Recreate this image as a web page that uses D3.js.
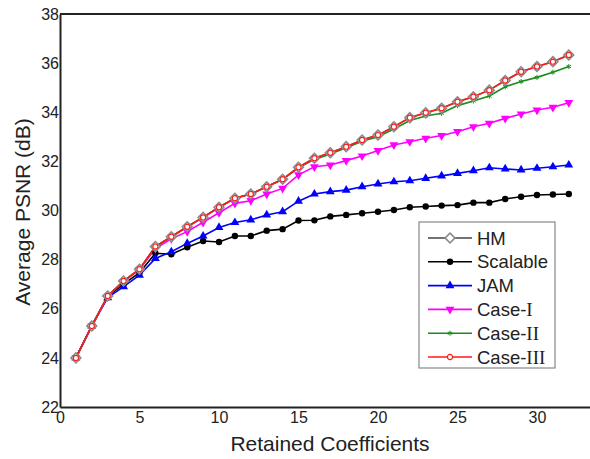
<!DOCTYPE html>
<html>
<head>
<meta charset="utf-8">
<script src="https://cdn.jsdelivr.net/npm/d3@7"></script>
<style>
  body { margin: 0; background: #fff; }
  text { font-family: "Liberation Sans", Arial, sans-serif; fill: #222; }
</style>
</head>
<body>
<svg id="chart" width="590" height="459"></svg>
<script>
// retained coefficients (x values)
var coeffs = [1, 2, 3, 4, 5, 6, 7, 8, 9, 10, 11, 12, 13, 14, 15, 16,
              17, 18, 19, 20, 21, 22, 23, 24, 25, 26, 27, 28, 29, 30, 31, 32];

var hm       = [24.0, 25.3, 26.52, 27.13, 27.61, 28.53, 28.93, 29.34, 29.72, 30.13, 30.5, 30.67, 30.97, 31.27, 31.76, 32.13,
                32.35, 32.6, 32.87, 33.07, 33.41, 33.78, 33.98, 34.16, 34.43, 34.63, 34.9, 35.29, 35.65, 35.86, 36.06, 36.33];
var scalable = [24.0, 25.3, 26.5, 27.0, 27.47, 28.26, 28.22, 28.5, 28.76, 28.72, 28.96, 28.96, 29.18, 29.24, 29.59, 29.6,
                29.76, 29.82, 29.89, 29.95, 30.02, 30.13, 30.16, 30.2, 30.22, 30.32, 30.32, 30.47, 30.56, 30.63, 30.65, 30.67];
var jam      = [24.0, 25.3, 26.45, 26.9, 27.37, 28.05, 28.32, 28.66, 28.96, 29.31, 29.51, 29.62, 29.82, 29.95, 30.38, 30.67,
                30.77, 30.83, 30.97, 31.08, 31.17, 31.21, 31.31, 31.41, 31.51, 31.62, 31.74, 31.69, 31.65, 31.72, 31.78, 31.85];
var caseI    = [24.0, 25.3, 26.5, 27.1, 27.6, 28.45, 28.85, 29.14, 29.52, 29.91, 30.29, 30.4, 30.67, 30.9, 31.45, 31.78,
                31.85, 32.03, 32.22, 32.44, 32.67, 32.8, 32.94, 33.05, 33.21, 33.41, 33.55, 33.75, 33.93, 34.09, 34.2, 34.39];
var caseII   = [24.0, 25.3, 26.52, 27.13, 27.61, 28.53, 28.93, 29.34, 29.72, 30.13, 30.5, 30.67, 30.97, 31.27, 31.74, 32.08,
                32.3, 32.55, 32.82, 33.0, 33.32, 33.66, 33.85, 33.96, 34.27, 34.46, 34.66, 35.04, 35.25, 35.42, 35.63, 35.86];
var caseIII  = [24.0, 25.3, 26.52, 27.13, 27.61, 28.53, 28.93, 29.34, 29.72, 30.13, 30.5, 30.67, 30.97, 31.27, 31.76, 32.13,
                32.35, 32.6, 32.87, 33.07, 33.41, 33.78, 33.98, 34.16, 34.43, 34.63, 34.9, 35.29, 35.65, 35.86, 36.06, 36.33];

var xTicks = [0, 5, 10, 15, 20, 25, 30];
var yTicks = [22, 24, 26, 28, 30, 32, 34, 36, 38];

var series = [
  { name: "Scalable", values: scalable, color: "#000000", marker: "dot" },
  { name: "JAM",      values: jam,      color: "#0000ff", marker: "up" },
  { name: "Case-I",   values: caseI,    color: "#ff00ff", marker: "down" },
  { name: "Case-II",  values: caseII,   color: "#1a8c1a", marker: "x" },
  { name: "HM",       values: hm,       color: "#666666", marker: "diamond" },
  { name: "Case-III", values: caseIII,  color: "#ff1a1a", marker: "circle" }
];
var legendOrder = ["HM", "Scalable", "JAM", "Case-I", "Case-II", "Case-III"];

var svg = d3.select("#chart");
var plotLeft = 60, plotTop = 14, plotBottom = 407;

var x = d3.scaleLinear().domain([0, 35]).range([plotLeft, plotLeft + 35 * 15.9]);
var y = d3.scaleLinear().domain([22, 38]).range([plotBottom, plotTop]);

// frame (right side runs off the picture)
svg.append("line").attr("x1", plotLeft).attr("x2", 600).attr("y1", plotTop).attr("y2", plotTop)
  .attr("stroke", "#222").attr("stroke-width", 2);

var xAxis = svg.append("g").attr("transform", "translate(0," + plotBottom + ")")
  .call(d3.axisBottom(x).tickValues(xTicks).tickSize(0).tickPadding(5));
var yAxis = svg.append("g").attr("transform", "translate(" + plotLeft + ",0)")
  .call(d3.axisLeft(y).tickValues(yTicks).tickSize(0).tickPadding(1));
[xAxis, yAxis].forEach(function (a) {
  a.select(".domain").attr("stroke", "#222").attr("stroke-width", 2);
  a.selectAll("text").attr("font-size", 16).attr("font-family", "Liberation Sans, Arial, sans-serif").attr("fill", "#222");
});

svg.append("text").attr("x", 330).attr("y", 451).attr("text-anchor", "middle")
  .attr("font-size", 21).text("Retained Coefficients");
svg.append("text").attr("transform", "translate(30,212) rotate(-90)").attr("text-anchor", "middle")
  .attr("font-size", 21).text("Average PSNR (dB)");

function drawMarker(sel, s) {
  if (s.marker == "dot") {
    sel.append("circle").attr("r", 3.2).attr("fill", s.color);
  } else if (s.marker == "up") {
    sel.append("path").attr("d", d3.symbol(d3.symbolTriangle, 34)()).attr("fill", s.color);
  } else if (s.marker == "down") {
    sel.append("path").attr("d", d3.symbol(d3.symbolTriangle, 34)()).attr("transform", "rotate(180)").attr("fill", s.color);
  } else if (s.marker == "x") {
    sel.append("path").attr("d", d3.symbol(d3.symbolAsterisk, 18)()).attr("fill", "none")
      .attr("stroke", s.color).attr("stroke-width", 1);
  } else if (s.marker == "diamond") {
    sel.append("path").attr("d", d3.symbol(d3.symbolSquare, 48)()).attr("transform", "rotate(45)")
      .attr("fill", "#fff").attr("stroke", "#8a8a8a").attr("stroke-width", 1.6);
  } else if (s.marker == "circle") {
    sel.append("circle").attr("r", 2.6).attr("fill", "#fff").attr("stroke", s.color).attr("stroke-width", 1.2);
  }
}

var line = d3.line()
  .x(function (d, i) { return x(coeffs[i]); })
  .y(function (d) { return y(d); });

series.forEach(function (s) {
  svg.append("path").datum(s.values).attr("d", line)
    .attr("fill", "none").attr("stroke", s.color).attr("stroke-width", 1.6);
});
series.forEach(function (s) {
  svg.append("g").selectAll("g").data(s.values).enter().append("g")
    .attr("transform", function (d, i) { return "translate(" + x(coeffs[i]) + "," + y(d) + ")"; })
    .each(function () { drawMarker(d3.select(this), s); });
});

// legend
var lg = svg.append("g").attr("transform", "translate(419,222)");
lg.append("rect").attr("width", 136).attr("height", 146)
  .attr("fill", "#fff").attr("stroke", "#888").attr("stroke-width", 1.2);
legendOrder.forEach(function (name, i) {
  var s = series.filter(function (d) { return d.name == name; })[0];
  var row = lg.append("g").attr("transform", "translate(0," + (16 + i * 23.8) + ")");
  row.append("line").attr("x1", 9).attr("x2", 53).attr("stroke", name == "HM" ? "#444" : s.color).attr("stroke-width", 1.6);
  drawMarker(row.append("g").attr("transform", "translate(31,0)"), s);
  var t = row.append("text").attr("x", 58).attr("y", 6.5).attr("font-size", 18.5);
  var parts = name.split("-");
  t.append("tspan").text(parts[0] + (parts.length > 1 ? "-" : ""));
  if (parts.length > 1) t.append("tspan").attr("font-family", "Liberation Serif, serif").attr("font-size", 19).text(parts[1]);
});
</script>
</body>
</html>
